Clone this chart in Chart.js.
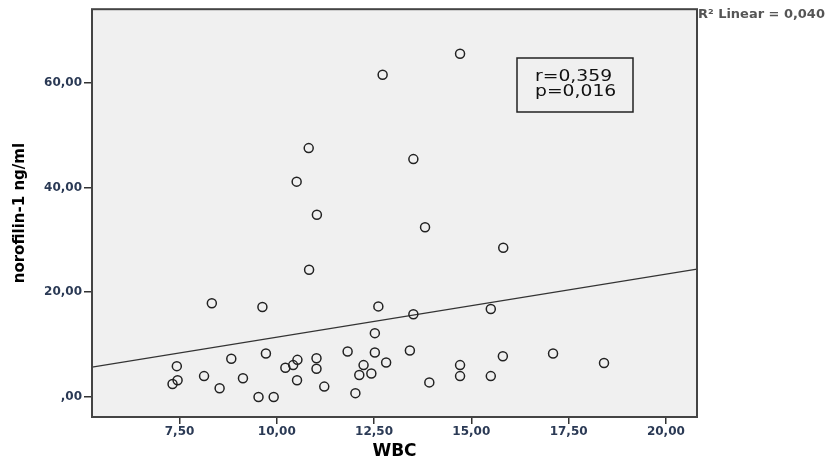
<!DOCTYPE html>
<html>
<head>
<meta charset="utf-8">
<script src="https://cdn.jsdelivr.net/npm/chart.js@4"></script>
<style>
  html, body { margin: 0; padding: 0; background: #fff; }
  #wrap { width: 828px; height: 466px; }
</style>
</head>
<body>
<div id="wrap"><canvas id="scatter"></canvas></div>
<script>
// WBC vs norofilin-1 values, one entry per patient
const wbc = [
  7.32, 7.43, 7.45, 8.13, 8.33, 8.53, 8.83, 9.13, 9.53, 9.63,
  9.72, 9.92, 10.22, 10.42, 10.52, 10.53, 10.51, 10.82, 10.83, 11.02,
  11.02, 11.03, 11.22, 11.82, 12.02, 12.12, 12.23, 12.43, 12.52, 12.52,
  12.61, 12.72, 12.81, 13.42, 13.51, 13.51, 13.81, 13.92, 14.71, 14.71,
  14.71, 15.50, 15.50, 15.81, 15.82, 17.10, 18.41
];
const norofilin = [
  2.5, 5.9, 3.2, 4.0, 17.9, 1.7, 7.3, 3.6, 0.0, 17.2,
  8.3, 0.0, 5.6, 6.1, 3.2, 7.1, 41.1, 47.5, 24.3, 7.4,
  5.4, 34.8, 2.0, 8.7, 0.75, 4.2, 6.1, 4.5, 8.5, 12.2,
  17.3, 61.5, 6.6, 8.9, 15.8, 45.4, 32.4, 2.8, 65.5, 6.1,
  4.0, 16.8, 4.0, 7.8, 28.5, 8.3, 6.5
];

// linear fit line, end points at the axis limits
const fitX = [5.25, 20.8];
const fitY = [5.7, 24.4];

const xTicks = [7.5, 10, 12.5, 15, 17.5, 20];
const yTicks = [0, 20, 40, 60];

const statsLines = ['r=0,359', 'p=0,016'];
const rSquaredText = 'R² Linear = 0,040';
const xTitle = 'WBC';
const yTitle = 'norofilin-1 ng/ml';

const FONT = 'DejaVu Sans';

// comma decimals, leading zero dropped (",00")
function fmt(v) {
  const s = v.toFixed(2).replace('.', ',');
  return s.startsWith('0') ? s.slice(1) : s;
}

// text stretched sideways (the wide SPSS look)
function wideText(ctx, text, x, y, sx) {
  ctx.save();
  ctx.translate(x, y);
  ctx.scale(sx, 1);
  ctx.fillText(text, 0, 0);
  ctx.restore();
}

const framePlugin = {
  id: 'frame',
  beforeDraw(chart) {
    const { ctx, chartArea: a } = chart;
    ctx.save();
    ctx.fillStyle = '#f0f0f0';
    ctx.fillRect(a.left, a.top, a.right - a.left, a.bottom - a.top);
    ctx.restore();
  },
  afterDraw(chart) {
    const { ctx, chartArea: a } = chart;
    ctx.save();

    // plot border
    ctx.strokeStyle = '#444';
    ctx.lineWidth = 2;
    ctx.strokeRect(a.left, a.top, a.right - a.left, a.bottom - a.top);

    // correlation box
    ctx.fillStyle = '#f0f0f0';
    ctx.fillRect(517, 58, 116, 54);
    ctx.strokeStyle = '#222';
    ctx.lineWidth = 1.5;
    ctx.strokeRect(517, 58, 116, 54);
    ctx.fillStyle = '#111';
    ctx.font = '15px ' + FONT;
    ctx.textBaseline = 'middle';
    ctx.textAlign = 'left';
    statsLines.forEach((t, i) => wideText(ctx, t, 535, 77 + i * 15, 1.25));

    // R² note, top right outside the plot
    ctx.fillStyle = '#555';
    ctx.font = 'bold 12px ' + FONT;
    wideText(ctx, rSquaredText, 698, 15, 1.08);

    // axis titles
    ctx.fillStyle = '#000';
    ctx.font = 'bold 17px ' + FONT;
    ctx.textAlign = 'center';
    ctx.fillText(xTitle, (a.left + a.right) / 2, 452);

    ctx.translate(20, (a.top + a.bottom) / 2);
    ctx.rotate(-Math.PI / 2);
    ctx.font = 'bold 15px ' + FONT;
    ctx.fillText(yTitle, 0, 0);
    ctx.restore();
  }
};

const ctx = document.getElementById('scatter').getContext('2d');

new Chart(ctx, {
  type: 'scatter',
  data: {
    datasets: [
      {
        label: 'points',
        data: wbc.map((x, i) => ({ x, y: norofilin[i] })),
        pointRadius: 4.5,
        pointBorderWidth: 1.5,
        pointBackgroundColor: 'rgba(0,0,0,0)',
        pointBorderColor: '#222',
        order: 1
      },
      {
        type: 'line',
        label: 'fit',
        data: fitX.map((x, i) => ({ x, y: fitY[i] })),
        borderColor: '#333',
        borderWidth: 1.3,
        pointRadius: 0,
        fill: false,
        order: 2
      }
    ]
  },
  options: {
    responsive: true,
    maintainAspectRatio: false,
    devicePixelRatio: 1,
    animation: false,
    events: [],
    layout: { padding: { top: 6, right: 131, left: 0, bottom: 0 } },
    plugins: { legend: { display: false }, tooltip: { enabled: false } },
    scales: {
      x: {
        type: 'linear',
        min: 5.25,
        max: 20.8,
        afterBuildTicks: s => { s.ticks = xTicks.map(v => ({ value: v })); },
        afterFit: s => { s.height = 49; },
        border: { display: false },
        grid: { drawOnChartArea: false, drawTicks: true, tickLength: 7, color: '#333', lineWidth: 1.5 },
        ticks: {
          callback: v => fmt(v),
          color: '#2b3a55',
          font: { family: FONT, size: 12, weight: 'bold' },
          padding: 1,
          maxRotation: 0
        }
      },
      y: {
        type: 'linear',
        min: -3.8,
        max: 74,
        afterBuildTicks: s => { s.ticks = yTicks.map(v => ({ value: v })); },
        afterFit: s => { s.width = 92; },
        border: { display: false },
        grid: { drawOnChartArea: false, drawTicks: true, tickLength: 8, color: '#333', lineWidth: 1.5 },
        ticks: {
          callback: v => fmt(v),
          color: '#2b3a55',
          font: { family: FONT, size: 12, weight: 'bold' },
          padding: 2
        }
      }
    }
  },
  plugins: [framePlugin]
});
</script>
</body>
</html>
